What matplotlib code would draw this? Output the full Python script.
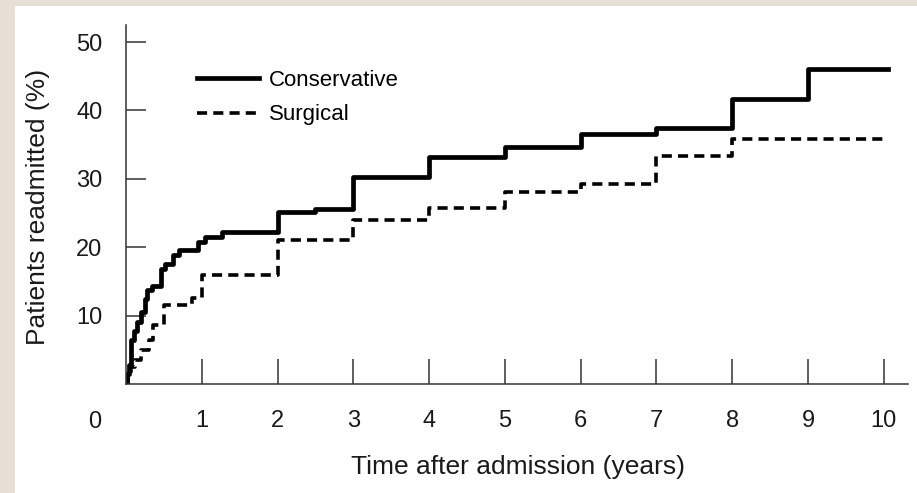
import matplotlib
matplotlib.use("Agg")
import matplotlib.pyplot as plt
from matplotlib.patches import Rectangle

plt.rcParams['font.family'] = ['Liberation Sans', 'DejaVu Sans']

# step data (time in years, % readmitted)
cons_t = [0, 0.01, 0.04, 0.07, 0.10, 0.15, 0.20, 0.25, 0.28, 0.34, 0.46, 0.52, 0.62, 0.70,
          0.95, 1.04, 1.27, 2.0, 2.5, 3.0, 4.0, 5.0, 6.0, 7.0, 8.0, 9.0, 10.05]
cons_v = [0, 1.5, 2.8, 6.5, 7.8, 9.0, 10.5, 12.5, 13.8, 14.4, 16.8, 17.5, 18.8, 19.6,
          20.8, 21.5, 22.2, 25.2, 25.6, 30.3, 33.2, 34.7, 36.6, 37.5, 41.7, 46.0, 46.0]

surg_t = [0, 0.02, 0.06, 0.12, 0.20, 0.30, 0.35, 0.50, 0.87, 1.0, 2.0, 3.0, 4.0, 5.0,
          6.0, 7.0, 8.0, 10.0]
surg_v = [0, 1.0, 2.5, 3.5, 5.0, 6.5, 8.6, 11.5, 12.6, 16.0, 21.0, 24.0, 25.8, 28.1,
          29.3, 33.4, 35.9, 35.9]

x_ticks = [1, 2, 3, 4, 5, 6, 7, 8, 9, 10]
y_ticks = [10, 20, 30, 40, 50]

fig = plt.figure(figsize=(9.17, 4.93), dpi=100)
fig.patch.set_facecolor('#e6dfd5')
fig.patches.append(Rectangle((15 / 917, 0), 1, 1 - 6 / 493, transform=fig.transFigure,
                             facecolor='white', edgecolor='none', zorder=-5))

ax = fig.add_axes([126 / 917, 109 / 493, 782 / 917, 359 / 493])
ax.set_facecolor('none')
ax.set_zorder(2)

ax.step(cons_t, cons_v, where='post', color='black', lw=3.4, label='Conservative')
ax.step(surg_t, surg_v, where='post', color='black', lw=2.6, dashes=(2.8, 1.7),
        label='Surgical')

ax.set_xlim(0, 10.32)
ax.set_ylim(0, 52.5)
for s in ['top', 'right']:
    ax.spines[s].set_visible(False)
for s in ['left', 'bottom']:
    ax.spines[s].set_color('#333333')
    ax.spines[s].set_linewidth(1.1)

ax.set_xticks(x_ticks)
ax.set_yticks(y_ticks)
ax.tick_params(axis='x', direction='in', length=18, width=1.1, color='#333333',
               pad=19, labelsize=17, labelcolor='#1a1a1a')
ax.tick_params(axis='y', direction='in', length=14.5, width=1.1, color='#333333',
               pad=17, labelsize=17, labelcolor='#1a1a1a')

fig.text(95 / 917, 1 - 422 / 493, '0', ha='center', va='center', fontsize=17,
         color='#1a1a1a')

ax.set_xlabel('Time after admission (years)', fontsize=19, color='#1a1a1a')
ax.xaxis.set_label_coords((518 - 126) / 782, -(467 - 384) / 359)
ax.set_ylabel('Patients readmitted (%)', fontsize=19, color='#1a1a1a')
ax.yaxis.set_label_coords((38 - 126) / 782, (384 - 207) / 359)
ax.xaxis.label.set_va('center')
ax.yaxis.label.set_va('center')

ax.legend(loc='upper left', bbox_to_anchor=(71 / 782, (384 - 70) / 359), frameon=False,
          fontsize=16, handlelength=2.8, handletextpad=0.45, labelspacing=0.6,
          borderaxespad=0, borderpad=0)

plt.savefig('out.png', dpi=100, facecolor=fig.get_facecolor())
plt.close()
